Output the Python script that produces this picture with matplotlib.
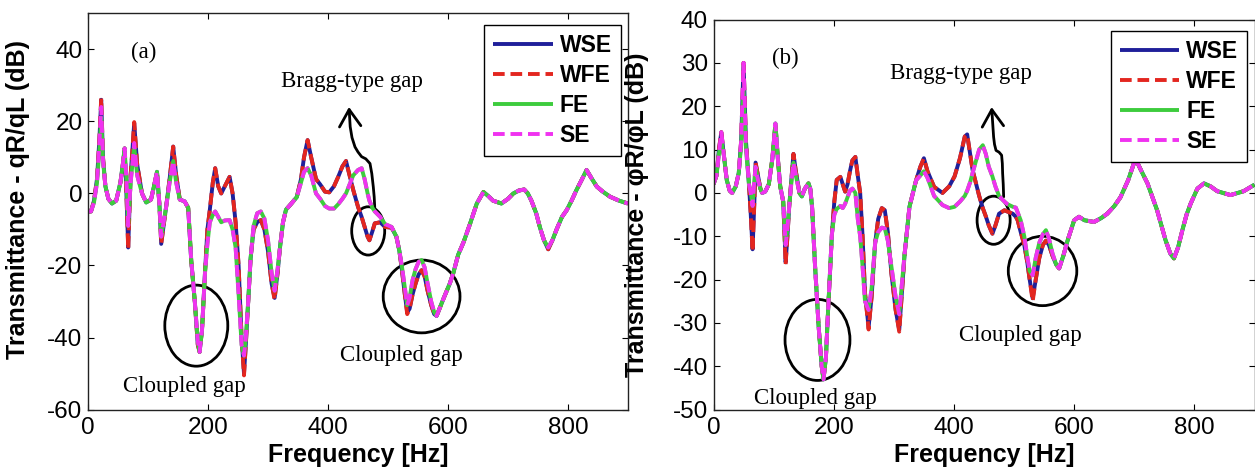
import matplotlib
matplotlib.use("Agg")
import matplotlib.pyplot as plt
from matplotlib.patches import Ellipse, FancyArrowPatch
from matplotlib.path import Path

plt.rcParams["axes.unicode_minus"] = False

# ---------------- panel (a): qR/qL transmittance ----------------
freq_a = [0, 5, 10, 15, 19, 22, 25, 29, 34, 40,
          47, 54, 58, 61, 64, 67, 71, 74, 77, 82,
          90, 97, 105, 110, 115, 119, 122, 126, 130, 136,
          142, 147, 153, 161, 167, 172, 178, 183, 186, 190,
          195, 199, 203, 208, 212, 217, 222, 228, 236, 241,
          246, 251, 256, 260, 263, 267, 271, 276, 282, 288,
          294, 300, 306, 311, 316, 320, 325, 330, 339, 348,
          355, 360, 366, 372, 380, 387, 395, 402, 410, 417,
          424, 430, 436, 442, 450, 456, 461, 466, 469, 474,
          478, 487, 495, 506, 514, 519, 523, 528, 532, 536,
          541, 546, 551, 556, 561, 566, 572, 577, 581, 587,
          593, 603, 609, 617, 626, 637, 648, 659, 667, 675,
          689, 700, 709, 718, 727, 733, 739, 747, 753, 760,
          767, 774, 781, 790, 798, 806, 814, 822, 831, 840,
          848, 858, 870, 885, 900]

wse_a = [-5, -5, -2, 4, 15, 26, 10, 2, -1.5, -2.8,
         -2, 3, 8, 12.5, 0, -15, 5, 12, 19.5, 8,
         0, -2.5, -1.7, 2, 6, -3, -14, -9, -4, 4,
         13, 5, -1.7, -2.2, -4, -18.5, -30, -42, -44, -38,
         -22, -10, -4.6, 3, 7, 2, 0, 2, 4.6, 0,
         -8, -20, -40, -50, -42, -30, -18, -10, -8, -7.4,
         -10, -16, -25, -29, -22, -15, -8, -4.5, -2.8, -1,
         4, 10, 14.8, 10, 4, 2.5, 0.5, 0.3, 2, 4.6,
         7.5, 9, 5, 1, -3.7, -6.5, -9.3, -12, -13, -10.5,
         -8.3, -8, -9.3, -9.5, -12, -16, -21, -28, -33, -32,
         -28, -25, -22.5, -21.3, -23, -27, -31, -33.5, -34, -31.5,
         -29, -25, -22, -17, -13.5, -8.3, -2.8, 0.4, -0.7, -2,
         -2.8, -1.5, 0, 0.8, 1.1, 0, -2, -5.5, -9.3, -13,
         -15.5, -13, -10, -6.5, -4.6, -2, 0.9, 3.5, 6.5, 4,
         1.9, 0.5, -0.9, -2, -2.8]

wfe_a = [-5, -5, -2, 4, 15, 26.5, 10, 2, -1.5, -2.8,
         -2, 3, 8, 12.5, 0, -15.5, 5, 12, 19.8, 8,
         0, -2.5, -1.7, 2, 6, -3, -14, -9, -4, 4,
         13, 5, -1.7, -2.2, -4, -18.5, -30, -42, -44, -38,
         -22, -10, -4.6, 3, 7, 2, 0, 2, 4.6, 0,
         -8, -20, -40, -50.5, -42, -30, -18, -10, -8, -7.4,
         -10, -16, -25, -29.5, -22, -15, -8, -4.5, -2.8, -1,
         4, 10, 14.8, 10, 4, 2.5, 0.5, 0.3, 2, 4.6,
         7.5, 9, 5, 1, -3.7, -6.5, -9.3, -12, -13, -10.5,
         -8.3, -8, -9.3, -9.5, -12, -16, -21, -28, -33.5, -32,
         -28, -25, -22.5, -21.3, -23, -27, -31, -33.5, -34, -31.5,
         -29, -25, -22, -17, -13.5, -8.3, -2.8, 0.4, -0.7, -2,
         -2.8, -1.5, 0, 0.8, 1.1, 0, -2, -5.5, -9.3, -13,
         -15.5, -13, -10, -6.5, -4.6, -2, 0.9, 3.5, 6.5, 4,
         1.9, 0.5, -0.9, -2, -2.8]

fe_a = [-5, -5, -2.5, 3, 12, 21, 9, 2, -1.5, -2.8,
        -2, 3, 8, 12.5, 4, -9, 3, 8, 13, 5,
        0, -2.5, -1.7, 2, 6, -3, -12, -8, -4, 3,
        9, 3, -1.7, -2.2, -4, -18.5, -30, -41, -44, -38,
        -22, -14, -8, -6, -5, -6.5, -8, -7.5, -7.4, -10,
        -15, -28, -42, -45, -40, -30, -18, -9, -5.5, -5,
        -7, -13, -22, -27, -21, -15, -8, -4.5, -2.8, -1,
        3, 6, 7, 5, 0, -1.5, -3.5, -4.2, -4.2, -3,
        -1.5, 0, 2.5, 5, 6.5, 7, 4, 0, -2, -4,
        -5, -6.5, -8.5, -9.3, -12, -16, -20, -26, -31, -29,
        -24, -21, -19, -18.5, -20.5, -25, -30, -33, -34, -31.5,
        -29, -25, -22, -17, -13.5, -8.3, -2.8, 0.4, -0.7, -2,
        -2.8, -1.5, 0, 0.8, 1.1, 0, -2, -5.5, -9.3, -13,
        -15, -13, -10, -6.5, -4.6, -2, 0.9, 3.5, 6.5, 4,
        1.9, 0.5, -0.9, -2, -2.8]

se_a = [-5, -5, -2.5, 3, 14, 24, 9, 2, -1.5, -2.8,
        -2, 3, 8, 12.5, 4, -9, 3, 8, 14, 5,
        0, -2.5, -1.7, 2, 6, -3, -12, -8, -4, 3,
        9, 3, -1.7, -2.2, -4, -18.5, -30, -41, -44, -38,
        -22, -14, -8, -6, -5, -6.5, -8, -7.5, -7.4, -10,
        -15, -28, -42, -45, -40, -30, -18, -9, -5.5, -5,
        -7, -13, -22, -27, -21, -15, -8, -4.5, -2.8, -1,
        3, 6, 7, 5, 0, -1.5, -3.5, -4.2, -4.2, -3,
        -1.5, 0, 2.5, 5, 6.5, 7, 4, 0, -2, -4,
        -5, -6.5, -8.5, -9.3, -12, -16, -20, -26, -31, -29,
        -24, -21, -19, -18.5, -20.5, -25, -30, -33, -34, -31.5,
        -29, -25, -22, -17, -13.5, -8.3, -2.8, 0.4, -0.7, -2,
        -2.8, -1.5, 0, 0.8, 1.1, 0, -2, -5.5, -9.3, -13,
        -15, -13, -10, -6.5, -4.6, -2, 0.9, 3.5, 6.5, 4,
        1.9, 0.5, -0.9, -2, -2.8]

# ---------------- panel (b): phiR/phiL transmittance ----------------
freq_b = [0, 5, 9, 13, 17, 22, 27, 31, 37, 42,
          46, 50, 54, 59, 62, 65, 68, 70, 74, 78,
          81, 86, 92, 98, 103, 107, 111, 116, 120, 123,
          126, 130, 133, 137, 143, 147, 152, 158, 161, 164,
          169, 175, 180, 183, 187, 191, 197, 201, 205, 211,
          215, 219, 223, 227, 231, 236, 240, 244, 248, 252,
          258, 263, 269, 274, 280, 285, 290, 296, 303, 309,
          314, 318, 326, 337, 344, 350, 356, 367, 381, 392,
          401, 410, 418, 422, 427, 431, 437, 442, 448, 453,
          458, 464, 469, 475, 484, 489, 498, 503, 506, 511,
          517, 522, 526, 531, 536, 542, 548, 553, 558, 564,
          570, 575, 582, 589, 600, 608, 617, 633, 645, 655,
          667, 677, 690, 702, 712, 722, 738, 752, 760, 766,
          773, 780, 787, 794, 805, 816, 827, 838, 860, 882,
          900]

wse_b = [2, 4, 10, 14, 9, 3, 0.5, 0, 1.5, 4.6,
         12, 30, 12, 2, -5, -13, -2, 7, 4, 1,
         0, 0.3, 2, 8, 16, 8, 1.5, -2, -16, -10,
         -3, 4, 9, 5, 0, -0.8, 1, 2.2, 1, -3.3,
         -17, -31, -40, -43, -38, -26, -9.5, -2, 3, 3.7,
         2, 0.3, 2, 5, 7.5, 8.3, 4, 0, -10, -23,
         -31, -24, -11.4, -6, -3.5, -4, -9, -18.6, -27, -31.6,
         -22, -14, -3.2, 2.9, 6, 8, 5, 1.4, 0, 1.5,
         3.8, 8, 13, 13.5, 9, 5.3, 2, -0.7, -3.5, -5.4,
         -7.5, -9.4, -7.5, -4.8, -4, -4.3, -4.8, -5.5, -6.3, -9,
         -12, -16, -20, -24.3, -20, -15, -12, -11, -12, -14.5,
         -16.5, -17.4, -14.5, -11, -6.3, -5.5, -6.3, -6.7, -5.8, -4.8,
         -3, -1, 3, 7.9, 5, 2.2, -4, -10.9, -14, -15.1,
         -12.5, -8.6, -5, -2.4, 1, 2.2, 1.5, 0.4, -0.5, 0.4,
         1.9]

wfe_b = [2, 4, 10, 14, 9, 3, 0.5, 0, 1.5, 4.6,
         12, 30, 12, 2, -5, -13.5, -2, 7, 4, 1,
         0, 0.3, 2, 8, 16, 8, 1.5, -2, -16.5, -10,
         -3, 4, 9, 5, 0, -0.8, 1, 2.2, 1, -3.3,
         -17, -31, -40, -43, -38, -26, -9.5, -2, 3, 3.7,
         2, 0.3, 2, 5, 7.5, 8.3, 4, 0, -10, -23,
         -31.5, -24, -11.4, -6, -3.5, -4, -9, -18.6, -27, -32,
         -22, -14, -3.2, 2.9, 6, 8, 5, 1.4, 0, 1.5,
         3.8, 8, 13, 13.5, 9, 5.3, 2, -0.7, -3.5, -5.4,
         -7.5, -9.4, -7.5, -4.8, -4, -4.3, -4.8, -5.5, -6.3, -9,
         -12, -16, -20, -25, -20, -15, -12, -11, -12, -14.5,
         -16.5, -17.4, -14.5, -11, -6.3, -5.5, -6.3, -6.7, -5.8, -4.8,
         -3, -1, 3, 7.9, 5, 2.2, -4, -10.9, -14, -15.1,
         -12.5, -8.6, -5, -2.4, 1, 2.2, 1.5, 0.4, -0.5, 0.4,
         1.9]

fe_b = [2, 4, 9, 12, 9, 3, 0.5, 0, 1.5, 4.6,
        11, 24, 10, 2, 0, -3, 3, 6, 3, 1,
        0, 0.3, 2, 8, 16, 8, 1.5, -2, -12, -8,
        -3, 3, 7, 4, 0, -0.8, 1, 2.2, 1, -3.3,
        -17, -31, -40, -43, -38, -26, -9.5, -5, -3.7, -3,
        -3.5, -2.5, -1, 0.5, 1, 0, -6, -10, -17, -25,
        -27, -22, -11.4, -9, -8, -8.2, -11, -17, -24, -28,
        -20, -14, -3.2, 2.9, 4, 5, 3.5, -0.7, -2.8, -3.5,
        -3.2, -2, -0.7, 0.5, 2.5, 4.6, 7.5, 10, 11, 9,
        6, 3.8, 1.5, -0.7, -2, -2.6, -3.2, -3.4, -4.5, -6.3,
        -10, -14.7, -18, -19, -15, -11.5, -9.5, -8.6, -10.5, -14,
        -16.5, -17.4, -14.5, -11, -6.3, -5.5, -6.3, -6.7, -5.8, -4.8,
        -3, -1, 3, 7.9, 5, 2.2, -4, -10.9, -14, -15.1,
        -12.5, -8.6, -5, -2.4, 1, 2.2, 1.5, 0.4, -0.5, 0.4,
        1.9]

se_b = [2, 4, 9, 14, 9, 3, 0.5, 0, 1.5, 4.6,
        12, 30, 11, 2, 0, -3, 3, 6, 3, 1,
        0, 0.3, 2, 8, 16, 8, 1.5, -2, -12, -8,
        -3, 3, 7, 4, 0, -0.8, 1, 2.2, 1, -3.3,
        -17, -31, -40, -43, -38, -26, -9.5, -5, -3.7, -3,
        -3.5, -2.5, -1, 0.5, 1, 0, -6, -10, -17, -25,
        -27, -22, -11.4, -9, -8, -8.2, -11, -17, -24, -28,
        -20, -14, -3.2, 2.9, 4, 5, 3.5, -0.7, -2.8, -3.5,
        -3.2, -2, -0.7, 0.5, 2.5, 4.6, 7.5, 10, 11, 9,
        6, 3.8, 1.5, -0.7, -2, -2.6, -3.2, -3.4, -4.5, -6.3,
        -10, -14.7, -18, -19, -15, -11.5, -9.5, -8.6, -10.5, -14,
        -16.5, -17.4, -14.5, -11, -6.3, -5.5, -6.3, -6.7, -5.8, -4.8,
        -3, -1, 3, 7.9, 5, 2.2, -4, -10.9, -14, -15.1,
        -12.5, -8.6, -5, -2.4, 1, 2.2, 1.5, 0.4, -0.5, 0.4,
        1.9]

series_labels = ["WSE", "WFE", "FE", "SE"]
x_ticks = [0, 200, 400, 600, 800]
y_ticks_a = [-60, -40, -20, 0, 20, 40]
y_ticks_b = [-50, -40, -30, -20, -10, 0, 10, 20, 30, 40]

SANS = ["Liberation Sans", "DejaVu Sans"]
SERIF = ["Liberation Serif", "DejaVu Serif"]

styles = [
    dict(color="#1f1f9a", ls="-"),
    dict(color="#e3261f", ls=(0, (3.0, 1.5))),
    dict(color="#3dcc3d", ls="-"),
    dict(color="#f032f0", ls=(0, (3.0, 1.5))),
]

fig = plt.figure(figsize=(12.55, 4.71), dpi=100)
ax_a = fig.add_axes([88 / 1255, 1 - 409.6 / 471, 540 / 1255, 396.3 / 471])
ax_b = fig.add_axes([713.5 / 1255, 1 - 409.7 / 471, 541 / 1255, 390.2 / 471])


def draw_panel(ax, freq, curves, ylim, yticks, ylabel):
    for vals, st, lab in zip(curves, styles, series_labels):
        ax.plot(freq, vals, lw=2.8, label=lab, solid_capstyle="butt",
                dash_capstyle="butt", **st)
    ax.set_xlim(0, 900)
    ax.set_ylim(*ylim)
    ax.set_xticks(x_ticks)
    ax.set_yticks(yticks)
    ax.tick_params(direction="in", length=4, width=0.8, top=True, right=True,
                   labelsize=17.5, pad=5)
    ax.tick_params(axis="y", pad=4)
    for lbl in ax.get_xticklabels() + ax.get_yticklabels():
        lbl.set_family(SANS)
    for sp in ax.spines.values():
        sp.set_linewidth(1.0)
        sp.set_color("#222222")
    ax.set_xlabel("Frequency [Hz]", family=SANS, fontweight="bold",
                  fontsize=18, labelpad=3)
    ax.set_ylabel(ylabel, family=SANS, fontweight="bold", fontsize=18)
    leg = ax.legend(loc="upper right", bbox_to_anchor=(0.987, 0.97),
                    prop={"family": SANS, "weight": "bold", "size": 16.5},
                    frameon=True, fancybox=False, framealpha=1,
                    edgecolor="black", handlelength=2.6, handletextpad=0.3,
                    labelspacing=0.3, borderpad=0.4, borderaxespad=0)
    leg.get_frame().set_linewidth(1.0)


draw_panel(ax_a, freq_a, [wse_a, wfe_a, fe_a, se_a], (-60, 50), y_ticks_a,
           "Transmittance - qR/qL (dB)")
draw_panel(ax_b, freq_b, [wse_b, wfe_b, fe_b, se_b], (-50, 40), y_ticks_b,
           "Transmittance - φR/φL (dB)")
ax_a.yaxis.set_label_coords(-0.108, 0.53)
ax_b.yaxis.set_label_coords(-0.119, 0.5)


def annotate(ax, tag, tag_xy, bragg_xy, gap1_xy, gap2_xy, ellipses, arrow_pts):
    kw = dict(family=SERIF, fontsize=16.5, ha="center", va="center")
    ax.text(*tag_xy, tag, **kw)
    ax.text(*bragg_xy, "Bragg-type gap", **kw)
    ax.text(*gap1_xy, "Cloupled gap", **kw)
    ax.text(*gap2_xy, "Cloupled gap", **kw)
    for (cx, cy, w, h) in ellipses:
        ax.add_patch(Ellipse((cx, cy), w, h, fill=False, lw=2.0, ec="black"))
    codes = [Path.MOVETO] + [Path.LINETO] * (len(arrow_pts) - 1)
    arrow = FancyArrowPatch(path=Path(arrow_pts, codes),
                            arrowstyle="->,head_length=0.55,head_width=0.35",
                            mutation_scale=22, lw=2.0, color="black")
    ax.add_patch(arrow)


annotate(ax_a, "(a)", (92, 39), (440, 31), (160, -53.7), (522, -45),
         [(180.5, -36.7, 105, 22.5), (467, -10.4, 55, 13.4),
          (556, -28.6, 128, 20.2)],
         [(478, -4.2), (477, -1.0), (475.5, 1.8), (473, 5.5), (470, 8.3),
          (463, 9.6), (456, 10.2), (450, 11.5), (445, 12.9), (440, 15.5),
          (437, 18.5), (435, 24)])

annotate(ax_b, "(b)", (119.5, 31), (412, 27.6), (170, -47.4), (510, -32.8),
         [(173, -33.9, 108, 18.7), (466, -6.3, 55, 11.1),
          (547.4, -18, 114, 16)],
         [(482.7, -0.9), (482, 2), (481, 4.5), (480.5, 6.8), (479.3, 8.7),
          (475, 9.4), (470, 9.8), (467.5, 11.2), (466, 12.9), (464.5, 16),
          (462.7, 19.8)])

fig.savefig("out.png", dpi=100)
